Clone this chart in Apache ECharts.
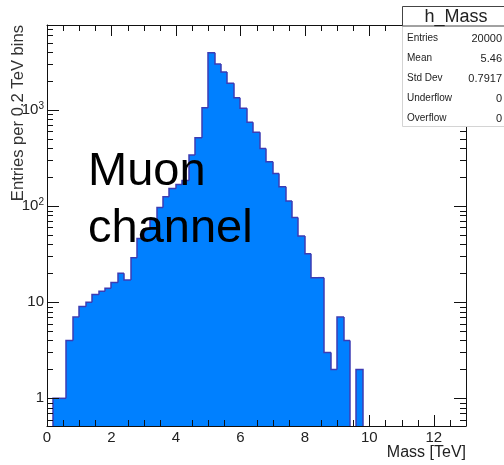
<!DOCTYPE html>
<html>
<head>
<meta charset="utf-8">
<script src="https://cdn.jsdelivr.net/npm/echarts@6/dist/echarts.min.js"></script>
<style>
  html, body { margin: 0; padding: 0; background: #fff; }
  #chart { width: 504px; height: 465px; }
</style>
</head>
<body>
<div id="chart"></div>
<script>
// Dimuon invariant-mass histogram, 0.2 TeV bins starting at 0 TeV
const binWidth = 0.2;
const counts = [0, 1, 1, 4, 7, 9, 10, 12, 13, 14, 16, 20, 17, 29, 46, 58, 72, 97, 125, 153,
                168, 185, 340, 515, 1057, 3950, 3013, 2486, 1897, 1343, 1042, 745, 586, 399, 290,
                219, 159, 113, 76, 49, 32, 18, 18, 3, 2, 7, 4, 0, 2];

// Axis ranges and labels
const xRange = [0, 13];
const yRange = [0.515, 7674];
const yTickLabels = ['1', '10', '10{sup|2}', '10{sup|3}'];   // indexed by decade exponent

// Statistics box
const statsTitle = 'h_Mass';
const statsLabels = ['Entries', 'Mean', 'Std Dev', 'Underflow', 'Overflow'];
const statsValues = ['20000', '5.46', '0.7917', '0', '0'];

const FONT = '"Liberation Sans", Arial, Helvetica, sans-serif';
const FILL = '#0080ff';
const EDGE = '#3c3cb4';
const INK = '#111';

// Tick positions: every 0.5 TeV on x, decades and 2..9 sub-steps on y
const xMinor = [];
for (let v = 0.5; v < xRange[1]; v += 0.5) if (v % 2 !== 0) xMinor.push(v);
const yTicks = [];   // [value, length]
for (let e = -1; e <= 3; e++) {
  for (let m = 1; m <= 9; m++) {
    const v = +(m * Math.pow(10, e)).toPrecision(3);
    if (v > yRange[0] && v < yRange[1]) yTicks.push([v, m === 1 ? 12 : 6]);
  }
}

function renderBin(params, api) {
  const i = params.dataIndex;
  const cs = params.coordSys;
  const base = cs.y + cs.height;
  const topOf = j => (counts[j] > 0 ? api.coord([0, counts[j]])[1] : base);
  const x0 = Math.round(api.coord([api.value(0), 1])[0]);
  const x1 = Math.round(api.coord([api.value(1), 1])[0]);
  const h = topOf(i), hp = topOf(i - 1);
  const children = [];
  if (counts[i] > 0) {
    children.push({
      type: 'rect',
      shape: { x: x0, y: h, width: x1 - x0, height: base - h },
      style: { fill: FILL, stroke: null, lineWidth: 0 }
    });
  }
  const pts = [];
  if (hp !== h) pts.push([x0, hp]);
  if (counts[i] > 0) {
    pts.push([x0, h], [x1, h]);
    if (i === counts.length - 1) pts.push([x1, base]);
  } else if (pts.length) {
    pts.push([x0, h]);
  }
  if (pts.length > 1) {
    children.push({
      type: 'polyline',
      shape: { points: pts },
      style: { stroke: EDGE, lineWidth: 1.5, fill: null },
      z2: 5
    });
  }
  return { type: 'group', children: children };
}

function renderXMinor(params, api) {
  const cs = params.coordSys;
  const x = Math.round(api.coord([api.value(0), 1])[0]) + 0.5;
  const base = cs.y + cs.height;
  const st = { stroke: INK, lineWidth: 1 };
  return {
    type: 'group',
    children: [
      { type: 'line', shape: { x1: x, y1: base, x2: x, y2: base - 6 }, style: st },
      { type: 'line', shape: { x1: x, y1: cs.y, x2: x, y2: cs.y + 6 }, style: st }
    ]
  };
}

function renderYTick(params, api) {
  const cs = params.coordSys;
  const y = Math.round(api.coord([0, api.value(1)])[1]) + 0.5;
  const len = api.value(2);
  const right = cs.x + cs.width;
  const st = { stroke: INK, lineWidth: 1 };
  return {
    type: 'group',
    children: [
      { type: 'line', shape: { x1: cs.x, y1: y, x2: cs.x + len, y2: y }, style: st },
      { type: 'line', shape: { x1: right, y1: y, x2: right - len, y2: y }, style: st }
    ]
  };
}

function yLabel(val) {
  const k = Math.log10(val);
  const r = Math.round(k);
  if (Math.abs(k - r) > 1e-6 || r < 0 || r >= yTickLabels.length) return '';
  return yTickLabels[r];
}

const axisLineStyle = { color: INK, width: 1 };
const baseX = {
  type: 'value', min: xRange[0], max: xRange[1], interval: 2,
  axisLine: { show: true, onZero: false, lineStyle: axisLineStyle },
  axisTick: { show: true, inside: true, length: 11, lineStyle: axisLineStyle },
  splitLine: { show: false }
};
const baseY = {
  type: 'log', logBase: 10, min: yRange[0], max: yRange[1],
  axisLine: { show: true, onZero: false, lineStyle: axisLineStyle },
  axisTick: { show: false },
  splitLine: { show: false }
};

// Stats box graphic elements
const boxX = 402.5, boxY = 6.5, boxW = 110, boxH = 120, titleH = 19.5;
const statsGraphic = [
  { type: 'rect', z: 100, shape: { x: boxX, y: boxY, width: boxW, height: boxH },
    style: { fill: '#fff', stroke: '#d4d4d4', lineWidth: 1 } },
  { type: 'rect', z: 101, shape: { x: boxX, y: boxY, width: boxW, height: titleH },
    style: { fill: '#fff', stroke: '#444', lineWidth: 1 } },
  { type: 'text', z: 102, x: 456, y: boxY + titleH / 2 + 0.5,
    style: { text: statsTitle, font: '18px ' + FONT, fill: '#222', align: 'center', verticalAlign: 'middle' } }
];
statsLabels.forEach((lab, k) => {
  const yy = 38.5 + k * 20;
  statsGraphic.push({ type: 'text', z: 102, x: 407, y: yy,
    style: { text: lab, font: '10px ' + FONT, fill: '#222', align: 'left', verticalAlign: 'middle' } });
  statsGraphic.push({ type: 'text', z: 102, x: 502, y: yy,
    style: { text: statsValues[k], font: '11px ' + FONT, fill: '#222', align: 'right', verticalAlign: 'middle' } });
});

const chart = echarts.init(document.getElementById('chart'), null, { renderer: 'canvas' });
chart.setOption({
  animation: false,
  backgroundColor: '#fff',
  textStyle: { fontFamily: FONT },
  grid: { left: 47, top: 25, width: 419, height: 401, containLabel: false, outerBoundsMode: 'none' },
  xAxis: [
    Object.assign({}, baseX, {
      position: 'bottom',
      axisLabel: { show: true, margin: 4, fontSize: 15, color: '#222', fontFamily: FONT, showMaxLabel: false },
      name: 'Mass [TeV]',
      nameLocation: 'end',
      nameGap: 0,
      nameMoveOverlap: false,
      nameTextStyle: { fontSize: 16, color: '#222', fontFamily: FONT, align: 'right', verticalAlign: 'top', padding: [19, 0, 0, 0] }
    }),
    Object.assign({}, baseX, { position: 'top', axisLabel: { show: false } })
  ],
  yAxis: [
    Object.assign({}, baseY, {
      position: 'left',
      axisLabel: {
        show: true, margin: 3, fontSize: 15, lineHeight: 18, color: '#222', fontFamily: FONT,
        formatter: yLabel,
        rich: { sup: { fontSize: 10, lineHeight: 10, verticalAlign: 'top', color: '#222', fontFamily: FONT } }
      },
      name: 'Entries per 0.2 TeV bins',
      nameLocation: 'end',
      nameRotate: 90,
      nameGap: 0,
      nameMoveOverlap: false,
      nameTextStyle: { fontSize: 16.6, color: '#333', fontFamily: FONT, align: 'right', verticalAlign: 'bottom', padding: [0, 0, 20, 0] }
    }),
    Object.assign({}, baseY, { position: 'right', axisLabel: { show: false } })
  ],
  series: [
    {
      type: 'custom', name: 'h_Mass', coordinateSystem: 'cartesian2d',
      xAxisIndex: 0, yAxisIndex: 0,
      data: counts.map((c, i) => [i * binWidth, (i + 1) * binWidth, c]),
      encode: { x: [0, 1], y: 2 },
      renderItem: renderBin,
      clip: false, z: 2, silent: true
    },
    {
      type: 'custom', coordinateSystem: 'cartesian2d', xAxisIndex: 0, yAxisIndex: 0,
      data: xMinor.map(v => [v, 1]), renderItem: renderXMinor, clip: false, z: 3, silent: true
    },
    {
      type: 'custom', coordinateSystem: 'cartesian2d', xAxisIndex: 0, yAxisIndex: 0,
      data: yTicks.map(t => [0, t[0], t[1]]), renderItem: renderYTick, clip: false, z: 3, silent: true
    }
  ],
  graphic: [
    { type: 'text', z: 50, x: 88, y: 143.5,
      style: { text: 'Muon\nchannel', font: '47px ' + FONT, fill: '#000', lineHeight: 57, align: 'left', verticalAlign: 'top' } }
  ].concat(statsGraphic)
});
</script>
</body>
</html>
